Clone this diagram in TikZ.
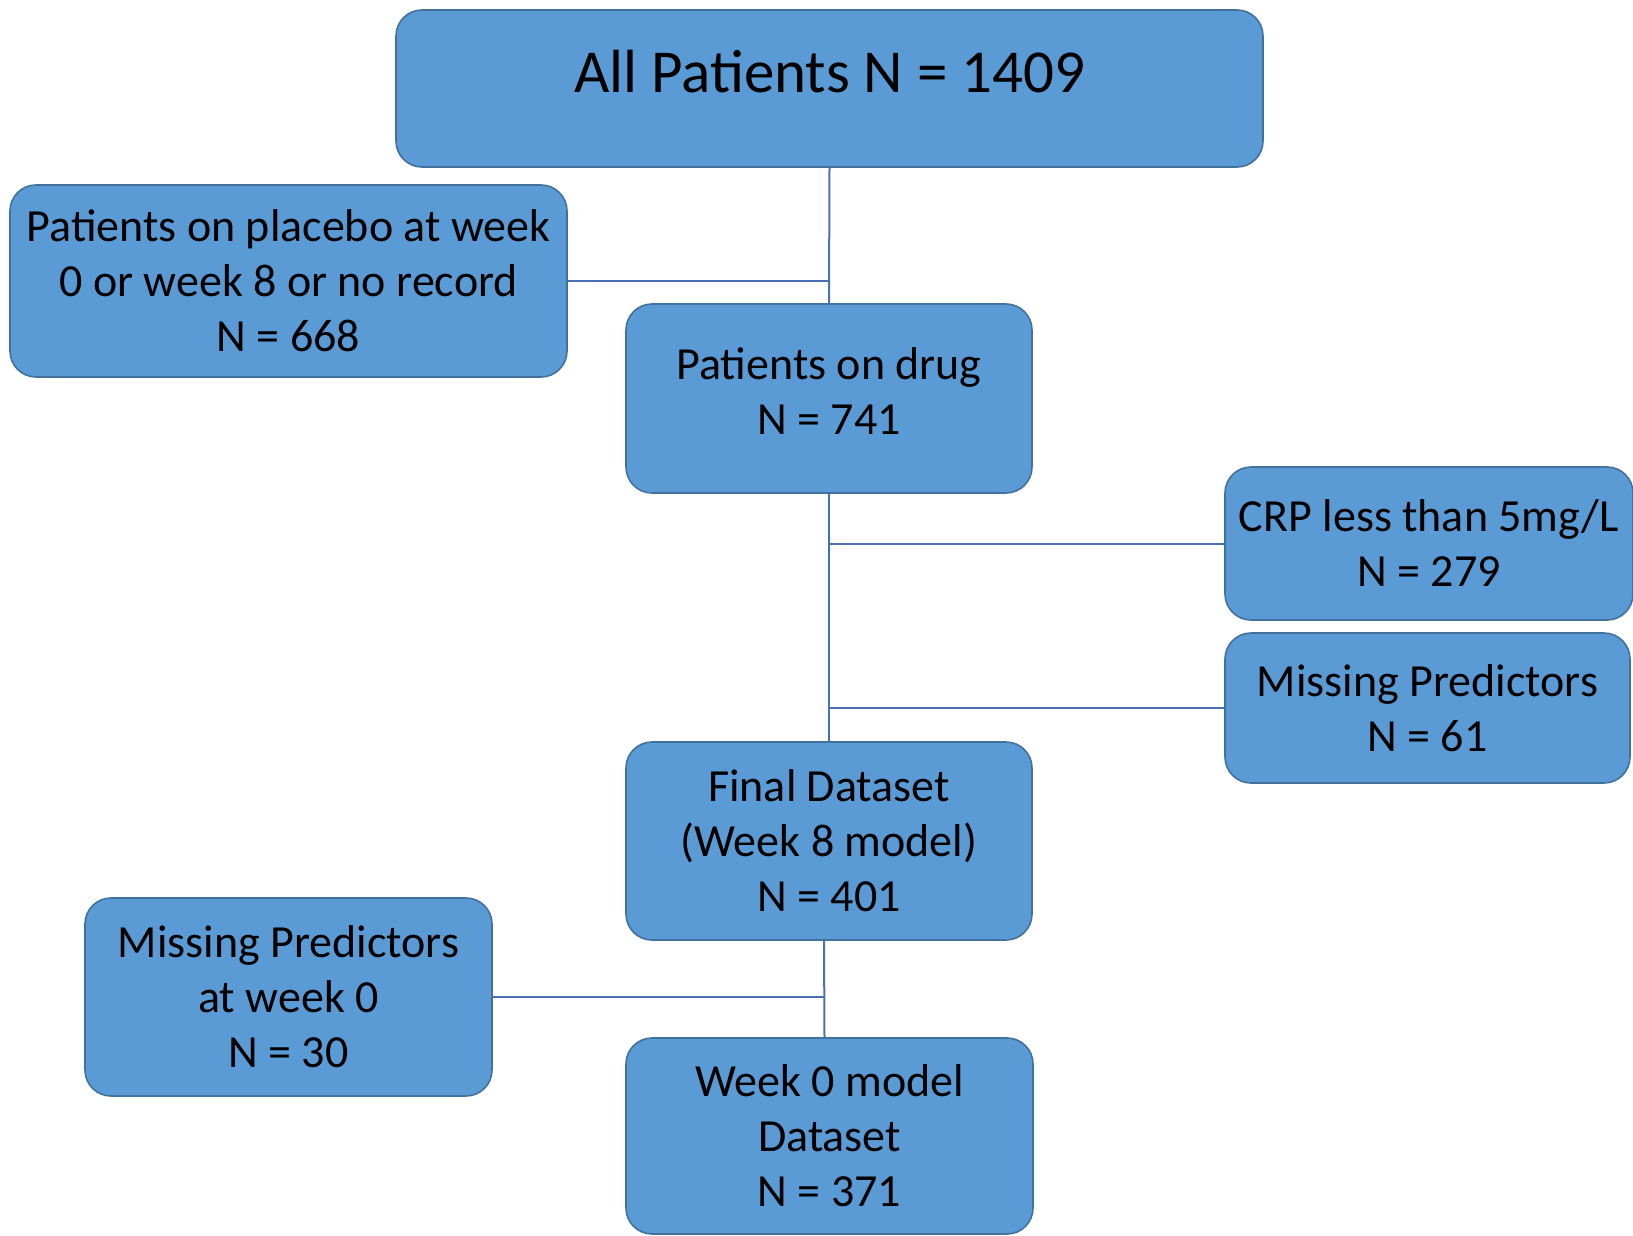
\documentclass[tikz,border=0pt]{standalone}
\usepackage{fontspec}
\setmainfont{Carlito}
\usetikzlibrary{positioning}
\definecolor{boxfill}{HTML}{5B9BD5}
\definecolor{boxline}{HTML}{41719C}
\definecolor{linkline}{HTML}{4A6FB5}
\tikzset{flowbox/.style={draw=boxline,line width=0.8pt,fill=boxfill,rounded corners=13pt,align=center,inner sep=0pt,font=\fontsize{23}{27.5}\selectfont},
  boxsize/.style 2 args={minimum width=#1pt,minimum height=#2pt},
  link/.style={draw=linkline,line width=1pt}}

\begin{document}
\begin{tikzpicture}[x=0.5pt,y=-0.5pt]
\useasboundingbox (0,0) rectangle (1633,1236);

% boxes
\node [flowbox,boxsize={433.5}{78.5},font=\fontsize{30.5}{34}\selectfont,text depth=17pt] (all) at (829.5,88.5) {All Patients N = 1409};
\node [flowbox,boxsize={278.5}{96}] (placebo) at (288.5,281) {Patients on placebo at week\\0 or week 8 or no record\\N = 668};
\node [flowbox,boxsize={203}{94.5},text depth=7pt] (drug) at (829,398.5) {Patients on drug\\N = 741};
\node [flowbox,boxsize={204}{76.5}] (crp) at (1429,543.5) {CRP less than 5mg/L\\N = 279};
\node [flowbox,boxsize={202.5}{75}] (missing) at (1427.5,708) {Missing Predictors\\N = 61};
\node [flowbox,boxsize={203}{99}] (final) at (829,841) {Final Dataset\\(Week 8 model)\\N = 401};
\node [flowbox,boxsize={203.5}{99}] (missingzero) at (288.5,997) {Missing Predictors\\at week 0\\N = 30};
\node [flowbox,boxsize={203.5}{98}] (weekzero) at (829.5,1136) {Week 0 model\\Dataset\\N = 371};

% connectors
\draw [link] (all.south) -- (drug.north);
\draw [link] (placebo.east) -- (placebo.east -| all.south);
\draw [link] (drug.south) -- (final.north);
\draw [link] (crp.west) -- (crp.west -| drug.south);
\draw [link] (missing.west) -- (missing.west -| drug.south);
\draw [link] ([xshift=-2.5pt]final.south) -- ([xshift=-2.5pt]weekzero.north);
\draw [link] (missingzero.east) -- ([xshift=-2.5pt]missingzero.east -| final.south);

\end{tikzpicture}
\end{document}
